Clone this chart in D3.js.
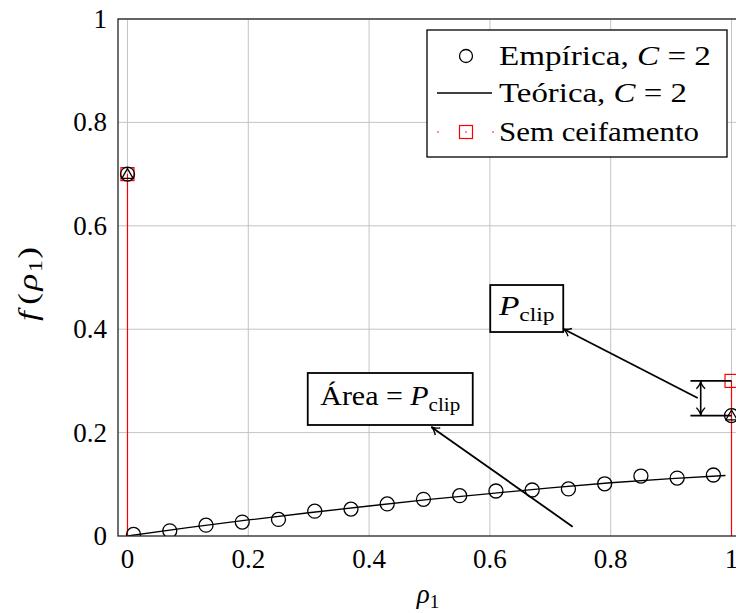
<!DOCTYPE html>
<html>
<head>
<meta charset="utf-8">
<script src="https://cdn.jsdelivr.net/npm/d3@7"></script>
<style>
  body { margin: 0; background: #fff; }
  text { font-family: "Liberation Serif", "Times New Roman", serif; }
</style>
</head>
<body>
<div id="chart"></div>
<script>
'use strict'

// empirical histogram (circles)
const empX = [0.01, 0.07, 0.13, 0.19, 0.25, 0.31, 0.37, 0.43, 0.49, 0.55, 0.61, 0.67, 0.73, 0.79, 0.85, 0.91, 0.97];
const empY = [0.003, 0.010, 0.021, 0.027, 0.032, 0.048, 0.052, 0.062, 0.071, 0.078, 0.087, 0.089, 0.091, 0.101, 0.116, 0.112, 0.118];

// theoretical density (line)
const theoX = [0, 0.1, 0.2, 0.3, 0.4, 0.5, 0.6, 0.7, 0.8, 0.9, 0.99];
const theoY = [0, 0.016, 0.031, 0.045, 0.058, 0.071, 0.082, 0.093, 0.103, 0.111, 0.117];

// point masses at the edges
const massX = [0, 1];
const massEmp = [0.7, 0.233];
const massTheo = [0.7, 0.233];
const noClipY = [0.7, 0.3];

const xTicks = [0, 0.2, 0.4, 0.6, 0.8, 1];
const yTicks = [0, 0.2, 0.4, 0.6, 0.8, 1];

const W = 736, H = 613;
const svg = d3.select("#chart").append("svg")
    .attr("width", W)
    .attr("height", H);

const x = d3.scaleLinear().domain([-0.0157, 1.0157]).range([118, 741]);
const y = d3.scaleLinear().domain([0, 1]).range([536, 19]);

const fmt = d => d === 0 || d === 1 ? String(d) : d.toFixed(1);

// widen a text horizontally (TeX fonts run wider than Times)
function stretch(sel, target, ax) {
    const w = sel.node().getBBox().width;
    const k = target / w;
    const tr = sel.attr("transform") || "";
    sel.attr("transform", `${tr} translate(${ax},0) scale(${k},1) translate(${-ax},0)`);
}

// grid
svg.append("g").selectAll("line")
    .data(xTicks)
    .enter().append("line")
    .attr("x1", d => x(d)).attr("x2", d => x(d))
    .attr("y1", y(0)).attr("y2", y(1))
    .attr("stroke", "#c4c4c4").attr("stroke-width", 1);

svg.append("g").selectAll("line")
    .data(yTicks.slice(1))
    .enter().append("line")
    .attr("x1", x.range()[0]).attr("x2", x.range()[1])
    .attr("y1", d => y(d)).attr("y2", d => y(d))
    .attr("stroke", "#c4c4c4").attr("stroke-width", 1);

// tick labels
svg.append("g").selectAll("text")
    .data(xTicks)
    .enter().append("text")
    .attr("x", d => x(d))
    .attr("y", y(0) + 32)
    .attr("text-anchor", "middle")
    .style("font-size", "27px")
    .text(fmt);

svg.append("g").selectAll("text")
    .data(yTicks)
    .enter().append("text")
    .attr("x", 107)
    .attr("y", d => y(d) + 9)
    .attr("text-anchor", "end")
    .style("font-size", "27px")
    .text(fmt);

// axis labels
svg.append("text")
    .attr("x", 428)
    .attr("y", 603)
    .attr("text-anchor", "middle")
    .style("font-size", "27px")
    .call(t => {
        t.append("tspan").style("font-style", "italic").text("ρ");
        t.append("tspan").attr("dy", 5).style("font-size", "19px").text("1");
    });

const ylab = svg.append("text")
    .attr("transform", `translate(37,284) rotate(-90)`)
    .attr("text-anchor", "middle")
    .style("font-size", "27px")
    .call(t => {
        t.append("tspan").style("font-style", "italic").text("f");
        t.append("tspan").attr("dx", 5).text("(");
        t.append("tspan").attr("dx", 2).style("font-style", "italic").text("ρ");
        t.append("tspan").attr("dx", 1).attr("dy", 5).style("font-size", "19px").text("1");
        t.append("tspan").attr("dx", 1).attr("dy", -5).text(")");
    });
stretch(ylab, 74, 0);

// plot clip
svg.append("clipPath").attr("id", "plotclip")
    .append("rect")
    .attr("x", x.range()[0]).attr("y", y(1))
    .attr("width", x.range()[1] - x.range()[0])
    .attr("height", y(0) - y(1));

const plot = svg.append("g").attr("clip-path", "url(#plotclip)");

// red stems (no clipping)
plot.selectAll(".stem")
    .data(massX)
    .enter().append("line")
    .attr("x1", d => x(d)).attr("x2", d => x(d))
    .attr("y1", y(0)).attr("y2", (d, i) => y(noClipY[i]))
    .attr("stroke", "red").attr("stroke-width", 1.2);

// theoretical line
plot.append("path")
    .datum(theoX.map((d, i) => [d, theoY[i]]))
    .attr("fill", "none")
    .attr("stroke", "black")
    .attr("stroke-width", 1.3)
    .attr("d", d3.line().x(d => x(d[0])).y(d => y(d[1])));

// empirical circles
plot.selectAll(".emp")
    .data(empX.map((d, i) => [d, empY[i]]))
    .enter().append("circle")
    .attr("cx", d => x(d[0])).attr("cy", d => y(d[1]))
    .attr("r", 7)
    .attr("fill", "none").attr("stroke", "black").attr("stroke-width", 1.3);

// red squares
plot.selectAll(".sq")
    .data(massX)
    .enter().append("rect")
    .attr("x", d => x(d) - 6.5).attr("y", (d, i) => y(noClipY[i]) - 6.5)
    .attr("width", 13).attr("height", 13)
    .attr("fill", "none").attr("stroke", "red").attr("stroke-width", 1.2);

// point masses: circle + triangle
plot.selectAll(".massc")
    .data(massX)
    .enter().append("circle")
    .attr("cx", d => x(d)).attr("cy", (d, i) => y(massEmp[i]))
    .attr("r", 7)
    .attr("fill", "none").attr("stroke", "black").attr("stroke-width", 1.3);

plot.selectAll(".masst")
    .data(massX)
    .enter().append("path")
    .attr("transform", (d, i) => `translate(${x(d)},${y(massTheo[i]) + 1})`)
    .attr("d", d3.symbol(d3.symbolTriangle, 55))
    .attr("fill", "none").attr("stroke", "black").attr("stroke-width", 1.3);

// axis box
svg.append("rect")
    .attr("x", x.range()[0]).attr("y", y(1))
    .attr("width", x.range()[1] - x.range()[0])
    .attr("height", y(0) - y(1))
    .attr("fill", "none").attr("stroke", "#222").attr("stroke-width", 1.3);

// annotations (data coordinates)
function arrowHead(g, x0, y0, x1, y1) {
    const a = Math.atan2(y1 - y0, x1 - x0);
    const L = 9, s = 0.5;
    const p1 = [x1 - L * Math.cos(a - s), y1 - L * Math.sin(a - s)];
    const p2 = [x1 - L * Math.cos(a + s), y1 - L * Math.sin(a + s)];
    g.append("path")
        .attr("d", `M${p1[0]},${p1[1]} Q${x1 - 3 * Math.cos(a)},${y1 - 3 * Math.sin(a)} ${x1},${y1} Q${x1 - 3 * Math.cos(a)},${y1 - 3 * Math.sin(a)} ${p2[0]},${p2[1]}`)
        .attr("fill", "none").attr("stroke", "black").attr("stroke-width", 1.4);
}

function arrow(x0, y0, x1, y1) {
    const g = svg.append("g");
    g.append("line")
        .attr("x1", x(x0)).attr("y1", y(y0))
        .attr("x2", x(x1)).attr("y2", y(y1))
        .attr("stroke", "black").attr("stroke-width", 1.8);
    arrowHead(g, x(x0), y(y0), x(x1), y(y1));
}

function pclip(t, label) {
    if (label) t.append("tspan").text(label);
    t.append("tspan").style("font-style", "italic").text("P");
    t.append("tspan").attr("dy", 6).style("font-size", "19px").text("clip");
}

function box(cx, cy, w, h, tw, fill) {
    const g = svg.append("g").attr("transform", `translate(${x(cx)},${y(cy)})`);
    g.append("rect")
        .attr("x", -w / 2).attr("y", -h / 2)
        .attr("width", w).attr("height", h)
        .attr("fill", "white").attr("stroke", "black").attr("stroke-width", 1.8);
    const t = g.append("text")
        .attr("x", 0).attr("y", 6)
        .attr("text-anchor", "middle")
        .style("font-size", "27px")
        .call(fill);
    stretch(t, tw, 0);
}

arrow(0.737, 0.018, 0.503, 0.211);
arrow(0.944, 0.267, 0.721, 0.401);

box(0.435, 0.265, 165, 52, 140, t => pclip(t, "Área = "));
box(0.661, 0.44, 73, 47, 57, t => pclip(t, null));

// bracket showing P_clip at rho = 1
const brX0 = 0.932, brX1 = 1.0, brMid = 0.949;
[massEmp[1], noClipY[1]].forEach(v => {
    svg.append("line")
        .attr("x1", x(brX0)).attr("x2", x(brX1))
        .attr("y1", y(v)).attr("y2", y(v))
        .attr("stroke", "black").attr("stroke-width", 1.8);
});
const brg = svg.append("g");
brg.append("line")
    .attr("x1", x(brMid)).attr("x2", x(brMid))
    .attr("y1", y(noClipY[1])).attr("y2", y(massEmp[1]))
    .attr("stroke", "black").attr("stroke-width", 1.6);
arrowHead(brg, x(brMid), y(0.266), x(brMid), y(noClipY[1]));
arrowHead(brg, x(brMid), y(0.266), x(brMid), y(massEmp[1]));

// legend
const lg = svg.append("g");
lg.append("rect")
    .attr("x", 427).attr("y", 30)
    .attr("width", 300).attr("height", 127)
    .attr("fill", "white").attr("stroke", "black").attr("stroke-width", 1.3);

const legRows = [56, 93, 132];
const legWidths = [212, 188, 200];
const legText = [
    t => { t.append("tspan").text("Empírica, "); t.append("tspan").style("font-style", "italic").text("C"); t.append("tspan").text(" = 2"); },
    t => { t.append("tspan").text("Teórica, "); t.append("tspan").style("font-style", "italic").text("C"); t.append("tspan").text(" = 2"); },
    t => t.text("Sem ceifamento")
];

lg.append("circle").attr("cx", 466).attr("cy", legRows[0]).attr("r", 6.5)
    .attr("fill", "none").attr("stroke", "black").attr("stroke-width", 1.3);
lg.append("line").attr("x1", 437).attr("x2", 492).attr("y1", legRows[1]).attr("y2", legRows[1])
    .attr("stroke", "black").attr("stroke-width", 1.3);
lg.append("rect").attr("x", 459.5).attr("y", legRows[2] - 6.5).attr("width", 13).attr("height", 13)
    .attr("fill", "none").attr("stroke", "red").attr("stroke-width", 1.2);
[438, 466, 493].forEach(cx => {
    lg.append("circle").attr("cx", cx).attr("cy", legRows[2]).attr("r", 0.8).attr("fill", "red");
});

legText.forEach((f, i) => {
    const t = lg.append("text")
        .attr("x", 499).attr("y", legRows[i] + 9)
        .style("font-size", "27px")
        .call(f);
    stretch(t, legWidths[i], 499);
});
</script>
</body>
</html>
